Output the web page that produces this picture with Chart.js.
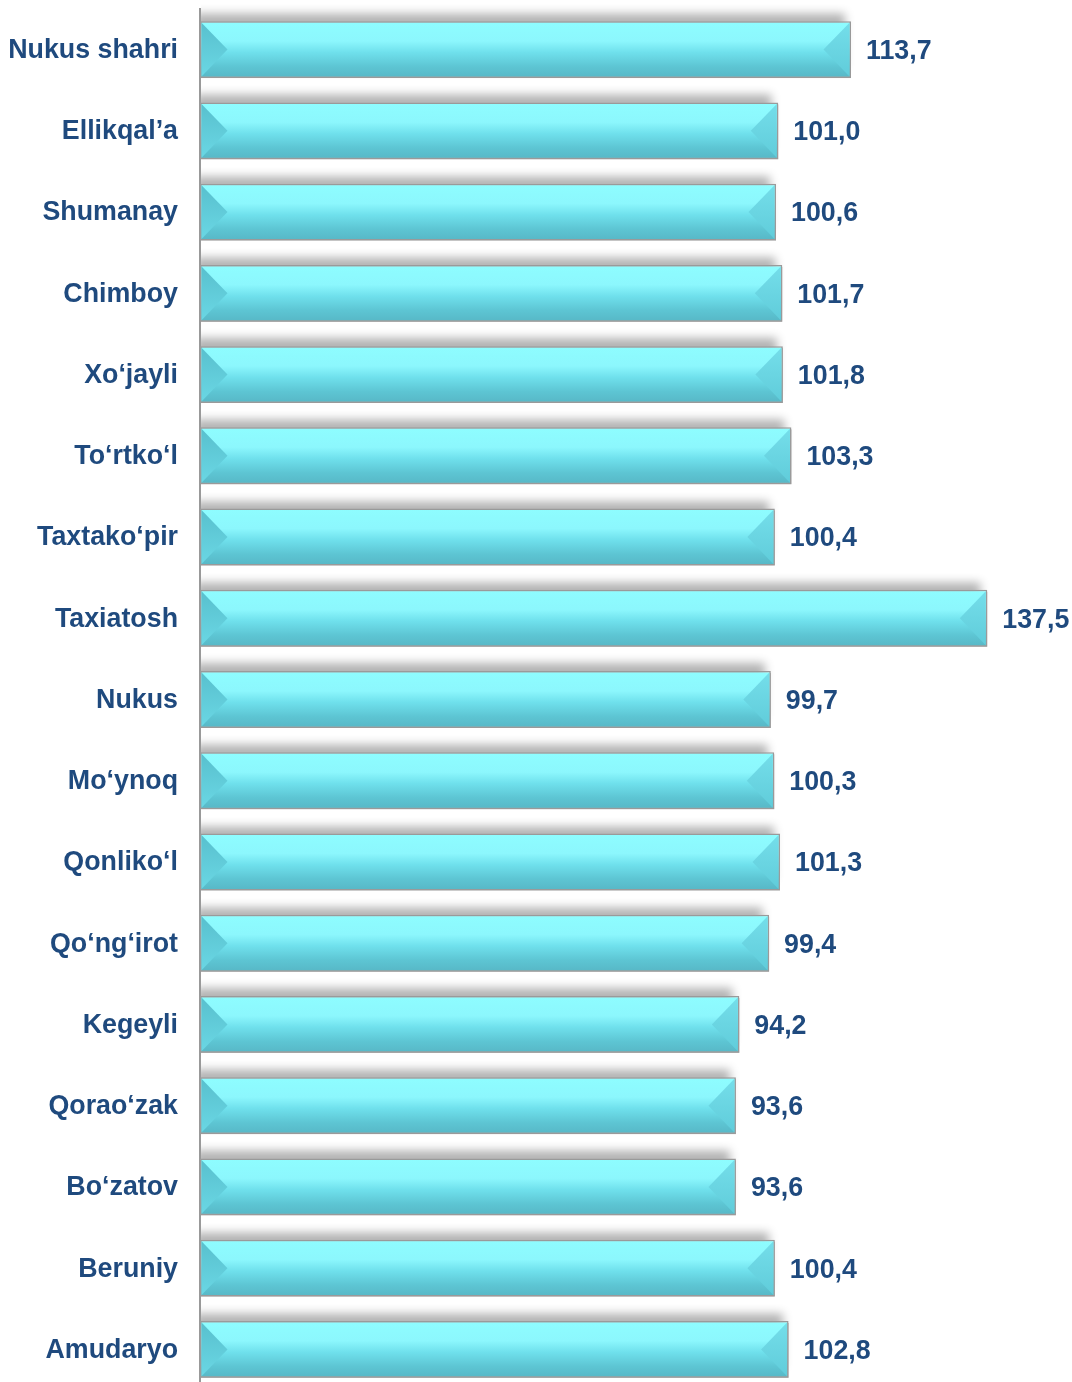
<!DOCTYPE html>
<html>
<head>
<meta charset="utf-8">
<script src="https://cdn.jsdelivr.net/npm/chart.js@4"></script>
<style>
  html, body { margin: 0; padding: 0; background: #fff; overflow: hidden; }
  #wrap { width: 1072px; height: 1390px; }
</style>
</head>
<body>
<div id="wrap"><canvas id="myChart"></canvas></div>
<script>
var categories = [
    'Nukus shahri', 'Ellikqal\u2019a', 'Shumanay', 'Chimboy', 'Xo\u2018jayli',
    'To\u2018rtko\u2018l', 'Taxtako\u2018pir', 'Taxiatosh', 'Nukus', 'Mo\u2018ynoq',
    'Qonliko\u2018l', 'Qo\u2018ng\u2018irot', 'Kegeyli', 'Qorao\u2018zak', 'Bo\u2018zatov',
    'Beruniy', 'Amudaryo'
];
var values = [113.7, 101.0, 100.6, 101.7, 101.8, 103.3, 100.4, 137.5, 99.7, 100.3, 101.3, 99.4, 94.2, 93.6, 93.6, 100.4, 102.8];

var textColor = '#1F4A7E';
Chart.defaults.font.family = '"Liberation Sans", Arial, sans-serif';

function barGradient(c) {
    var chart = c.chart;
    if (!chart.chartArea) return '#74e4ef';
    var y = chart.scales.y;
    var center = y.getPixelForValue(c.dataIndex);
    var half = y.height / categories.length * 0.35;
    var g = chart.ctx.createLinearGradient(0, center - half, 0, center + half);
    g.addColorStop(0, '#8EFDFF');
    g.addColorStop(0.35, '#8CF7FD');
    g.addColorStop(0.55, '#6FE0EC');
    g.addColorStop(0.8, '#5DC5D3');
    g.addColorStop(1, '#57B7C6');
    return g;
}

// soft gray shadow above each bar
var shadowPlugin = {
    id: 'shadow',
    beforeDatasetsDraw: function(chart) {
        var ctx = chart.ctx, area = chart.chartArea;
        ctx.save();
        ctx.beginPath();
        ctx.rect(area.left + 1, 0, area.right - area.left, chart.height);
        ctx.clip();
        ctx.shadowColor = 'rgba(0,0,0,0.3)';
        ctx.shadowBlur = 9;
        ctx.shadowOffsetX = -6;
        ctx.shadowOffsetY = -10;
        ctx.fillStyle = '#aaa';
        chart.getDatasetMeta(0).data.forEach(function(bar) {
            var p = bar.getProps(['x', 'y', 'base', 'height'], true);
            ctx.fillRect(p.base, p.y - p.height / 2 + 2, p.x - p.base, p.height - 2);
        });
        ctx.restore();
    }
};

// bevelled ends and value labels
var bevelPlugin = {
    id: 'bevel',
    afterDatasetsDraw: function(chart) {
        var ctx = chart.ctx;
        ctx.save();
        chart.getDatasetMeta(0).data.forEach(function(bar, i) {
            var p = bar.getProps(['x', 'y', 'base', 'height'], true);
            var bw = 1.5;
            var top = p.y - p.height / 2 + bw, bot = p.y + p.height / 2 - bw;
            var l = p.base + bw, r = p.x - bw, w = 26;

            var gl = ctx.createLinearGradient(0, top, 0, bot);
            gl.addColorStop(0, '#58C0CE');
            gl.addColorStop(1, '#6AD7E4');
            ctx.fillStyle = gl;
            ctx.beginPath(); ctx.moveTo(l, top); ctx.lineTo(l + w, p.y); ctx.lineTo(l, bot); ctx.closePath(); ctx.fill();

            var gr = ctx.createLinearGradient(0, top, 0, bot);
            gr.addColorStop(0, '#74DEEA');
            gr.addColorStop(1, '#60CCDA');
            ctx.fillStyle = gr;
            ctx.beginPath(); ctx.moveTo(r, top); ctx.lineTo(r - w, p.y); ctx.lineTo(r, bot); ctx.closePath(); ctx.fill();

            ctx.fillStyle = textColor;
            ctx.font = 'bold 26.8px "Liberation Sans", Arial, sans-serif';
            ctx.textAlign = 'left';
            ctx.textBaseline = 'middle';
            ctx.fillText(values[i].toFixed(1).replace('.', ','), p.x + 15, p.y + 2);
        });
        ctx.restore();
    }
};

var ctx = document.getElementById('myChart').getContext('2d');
var chart = new Chart(ctx, {
    type: 'bar',
    data: {
        labels: categories,
        datasets: [
            {
                data: values,
                backgroundColor: barGradient,
                borderColor: '#9a9a9a',
                borderWidth: 1.5,
                borderSkipped: false,
                barPercentage: 0.7,
                categoryPercentage: 1
            }
        ]
    },
    options: {
        indexAxis: 'y',
        responsive: true,
        maintainAspectRatio: false,
        animation: false,
        layout: {
            autoPadding: false,
            padding: { left: 0, right: 0, top: 9, bottom: 0 }
        },
        plugins: {
            legend: { display: false },
            tooltip: { enabled: false }
        },
        scales: {
            x: {
                display: false,
                min: 0,
                max: 152.3
            },
            y: {
                afterFit: function(axis) {
                    axis.width = 200;
                    axis.paddingTop = 0;
                    axis.paddingBottom = 0;
                },
                grid: { display: false, drawTicks: false },
                border: { display: true, color: '#999', width: 2 },
                ticks: {
                    autoSkip: false,
                    padding: 22,
                    labelOffset: 1,
                    color: textColor,
                    font: { size: 26.8, weight: 'bold' }
                }
            }
        }
    },
    plugins: [shadowPlugin, bevelPlugin]
});
</script>
</body>
</html>
